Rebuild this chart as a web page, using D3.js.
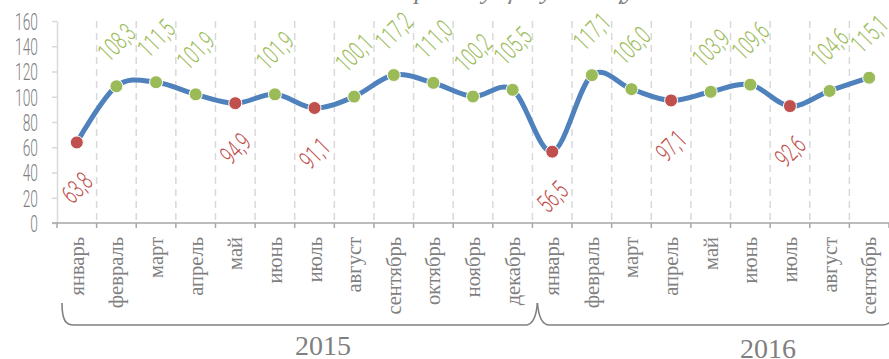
<!DOCTYPE html>
<html>
<head>
<meta charset="utf-8">
<script src="https://cdn.jsdelivr.net/npm/d3@7/dist/d3.min.js"></script>
<style>
  html, body { margin: 0; padding: 0; background: #fff; }
  svg { display: block; }
</style>
</head>
<body>
<svg id="chart" width="889" height="359"></svg>
<script>
// Monthly index, % of the previous month
const months = ["январь","февраль","март","апрель","май","июнь","июль","август","сентябрь","октябрь","ноябрь","декабрь",
                "январь","февраль","март","апрель","май","июнь","июль","август","сентябрь"];
const values = [63.8,108.3,111.5,101.9,94.9,101.9,91.1,100.1,117.2,111.0,100.2,105.5,
                56.5,117.1,106.0,97.1,103.9,109.6,92.6,104.6,115.1];
const years = ["2015", "2016"];
const yearSpans = [[0, 12], [12, 21]];   // [first month index, end index) per year
const yTicks = [0, 20, 40, 60, 80, 100, 120, 140, 160];
const titleText = "в % к предыдущему месяцу";

(function () {
const svg = d3.select("#chart");

const plotL = 57, plotR = 889, plotT = 21, plotB = 223;
const n = months.length;

const x = d3.scaleBand().domain(d3.range(n)).range([plotL, plotR]).paddingInner(0).paddingOuter(0);
const cx = i => x(i) + x.bandwidth() / 2;
const y = d3.scaleLinear().domain([0, 160]).range([plotB, plotT]);

const narrow = "Roboto, 'Liberation Sans Narrow', 'DejaVu Sans Condensed', sans-serif";
const serif = "'Liberation Serif', 'DejaVu Serif', serif";
const green = "#9BBB59", red = "#C0504D", blue = "#4F81BD";

// clipped title above the plot
svg.append("text")
  .attr("x", 337).attr("y", -1)
  .attr("font-family", serif).attr("font-style", "italic")
  .attr("font-size", 26).attr("fill", "#7f7f7f")
  .text(titleText);

// dashed separators between months
svg.append("g").selectAll("line")
  .data(d3.range(1, n))
  .join("line")
  .attr("x1", i => x(i)).attr("x2", i => x(i))
  .attr("y1", y(160)).attr("y2", y(0))
  .attr("stroke", "#d9d9d9").attr("stroke-width", 1.5)
  .attr("stroke-dasharray", "7,5");

// y axis
const yAxis = svg.append("g")
  .attr("transform", `translate(${plotL},0)`)
  .call(d3.axisLeft(y).tickValues(yTicks).tickSize(5).tickSizeOuter(0).tickFormat(d3.format("d")));
yAxis.select(".domain").attr("stroke", "#d9d9d9").attr("stroke-width", 1.5);
yAxis.selectAll(".tick line").attr("stroke", "#d9d9d9").attr("stroke-width", 1.5);
yAxis.selectAll(".tick text")
  .attr("x", null).attr("dy", "0.36em")
  .attr("transform", "translate(-19,0) scale(0.6,1)")
  .attr("font-family", narrow).attr("font-weight", 300)
  .attr("font-size", 23).attr("fill", "#7f7f7f");

// x axis with ticks at month boundaries
const xAxisG = svg.append("g").attr("transform", `translate(0,${plotB})`);
xAxisG.append("line")
  .attr("x1", plotL - 5).attr("x2", plotR).attr("y1", 0).attr("y2", 0)
  .attr("stroke", "#a6a6a6").attr("stroke-width", 1.5);
xAxisG.selectAll("line.tk")
  .data(d3.range(0, n + 1))
  .join("line").attr("class", "tk")
  .attr("x1", i => i < n ? x(i) : plotR).attr("x2", i => i < n ? x(i) : plotR)
  .attr("y1", 0).attr("y2", 5)
  .attr("stroke", "#a6a6a6").attr("stroke-width", 1.5);

// month labels
svg.append("g").selectAll("text")
  .data(months)
  .join("text")
  .attr("transform", (d, i) => `translate(${cx(i) + 7},${plotB + 14}) rotate(-90)`)
  .attr("text-anchor", "end")
  .attr("font-family", serif).attr("font-size", 20.5).attr("fill", "#7f7f7f")
  .text(d => d);

// year braces
const by = 325, btop = 303, r = 12, off = 5;
const braceG = svg.append("g").attr("fill", "none").attr("stroke", "#808080").attr("stroke-width", 1.6);
yearSpans.forEach(([a, b], k) => {
  const x0 = x(a) + off;
  const x1 = (b < n ? x(b) : plotR) + off;
  const p = d3.path();
  p.moveTo(x0, btop);
  if (k === 0) p.bezierCurveTo(x0, by - 4, x0 + 4, by, x0 + r, by);
  else p.bezierCurveTo(x0 + 1, by - 10, x0 + 4, by, x0 + r, by);
  p.lineTo(x1 - r, by);
  if (k === 0) p.bezierCurveTo(x1 - 4, by, x1 - 1, by - 10, x1, btop);
  else p.bezierCurveTo(x1 - 4, by, x1, by - 4, x1, btop);
  braceG.append("path").attr("d", p.toString());
});

// year labels
const yearPos = [[323, 355], [768, 358]];
svg.append("g").selectAll("text")
  .data(years)
  .join("text")
  .attr("x", (d, i) => yearPos[i][0]).attr("y", (d, i) => yearPos[i][1])
  .attr("text-anchor", "middle")
  .attr("font-family", serif).attr("font-size", 28).attr("fill", "#7f7f7f")
  .text(d => d);

// smoothed line
const line = d3.line()
  .x((d, i) => cx(i)).y(d => y(d))
  .curve(d3.curveCardinal.tension(0));
svg.append("path")
  .datum(values)
  .attr("d", line)
  .attr("fill", "none").attr("stroke", blue).attr("stroke-width", 5)
  .attr("stroke-linejoin", "round");

// markers: green at or above 100, red below
const col = v => v >= 100 ? green : red;
svg.append("g").selectAll("circle")
  .data(values)
  .join("circle")
  .attr("cx", (d, i) => cx(i)).attr("cy", d => y(d))
  .attr("r", 6.5)
  .attr("fill", col).attr("stroke", "#fff").attr("stroke-width", 1);

// value labels
const fmt = v => v.toFixed(1).replace(".", ",");
svg.append("g").selectAll("text")
  .data(values)
  .join("text")
  .attr("transform", (d, i) => {
    const ly = d >= 100 ? y(d) - 44 : y(d) + 45;
    return `translate(${cx(i)},${ly}) rotate(-45) scale(0.64,1)`;
  })
  .attr("text-anchor", "middle").attr("dy", "0.36em")
  .attr("font-family", narrow).attr("font-weight", 300).attr("font-size", 26)
  .attr("fill", col)
  .text(fmt);
})();
</script>
</body>
</html>
